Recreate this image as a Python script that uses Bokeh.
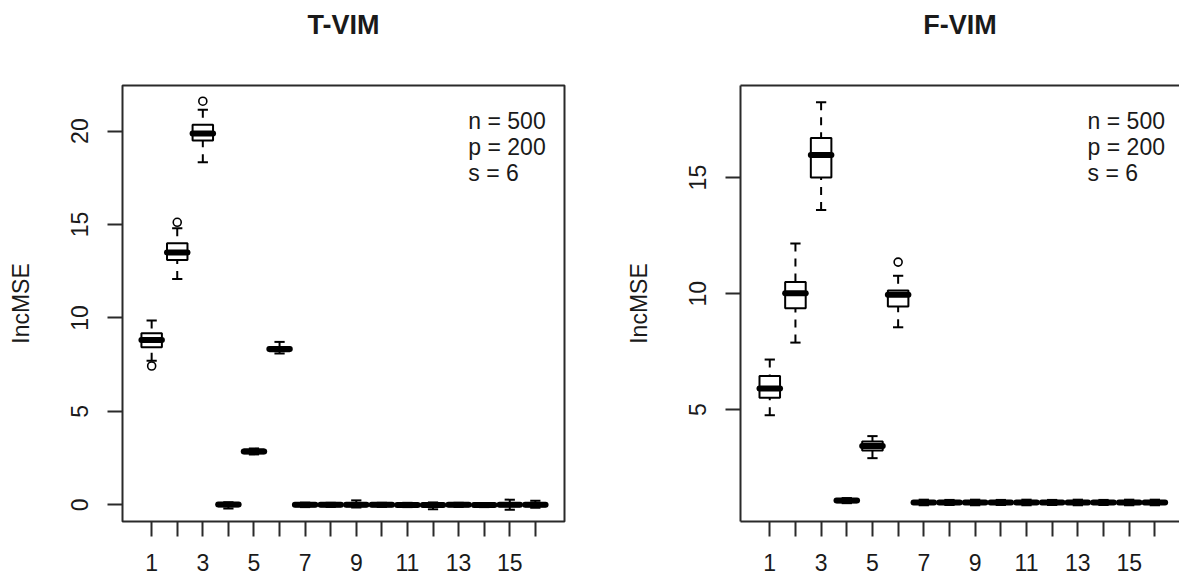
from bokeh.plotting import figure
from bokeh.layouts import row
from bokeh.models import FixedTicker, Label, LinearAxis, ColumnDataSource
from bokeh.embed import file_html
from bokeh.resources import INLINE

# ---------------- data ----------------
positions = list(range(1, 17))
x_tick_labels = ["1", "", "3", "", "5", "", "7", "", "9", "", "11", "", "13", "", "15", ""]
legend_lines = ["n = 500", "p = 200", "s = 6"]
y_label = "IncMSE"

# T-VIM boxplot statistics
tvim_low = [7.71, 12.09, 18.33, -0.20, 2.70, 8.10, -0.12, -0.11, -0.14, -0.11, -0.12, -0.24, -0.11, -0.12, -0.26, -0.16]
tvim_q1 = [8.43, 13.10, 19.50, -0.08, 2.76, 8.22, -0.08, -0.08, -0.08, -0.08, -0.08, -0.08, -0.08, -0.08, -0.08, -0.08]
tvim_med = [8.82, 13.51, 19.87, 0.02, 2.86, 8.34, 0.00, 0.00, 0.01, 0.00, -0.01, -0.01, 0.00, -0.01, 0.01, 0.01]
tvim_q3 = [9.18, 14.00, 20.34, 0.09, 2.96, 8.45, 0.08, 0.08, 0.09, 0.08, 0.08, 0.08, 0.08, 0.08, 0.09, 0.09]
tvim_high = [9.86, 14.80, 21.14, 0.14, 3.02, 8.72, 0.12, 0.11, 0.24, 0.11, 0.11, 0.13, 0.11, 0.10, 0.28, 0.22]
tvim_out_x = [1, 2, 3]
tvim_out_y = [7.43, 15.12, 21.60]
tvim_yticks = [0, 5, 10, 15, 20]

# F-VIM boxplot statistics
fvim_low = [4.76, 7.89, 13.60, 0.97, 2.91, 8.55, 0.88, 0.89, 0.88, 0.89, 0.88, 0.89, 0.88, 0.89, 0.88, 0.88]
fvim_q1 = [5.51, 9.37, 15.00, 1.01, 3.24, 9.45, 0.94, 0.94, 0.94, 0.94, 0.94, 0.94, 0.94, 0.94, 0.94, 0.94]
fvim_med = [5.91, 10.02, 15.98, 1.08, 3.43, 9.95, 1.00, 1.00, 1.00, 1.00, 1.00, 1.00, 1.00, 1.00, 1.00, 1.00]
fvim_q3 = [6.45, 10.50, 16.71, 1.15, 3.63, 10.14, 1.06, 1.06, 1.06, 1.06, 1.06, 1.06, 1.06, 1.06, 1.06, 1.06]
fvim_high = [7.16, 12.16, 18.25, 1.19, 3.86, 10.77, 1.12, 1.11, 1.12, 1.11, 1.12, 1.11, 1.12, 1.11, 1.12, 1.12]
fvim_out_x = [6]
fvim_out_y = [11.36]
fvim_yticks = [5, 10, 15]

FONT = "Liberation Sans"
INK = "#1a1a1a"
FRAME = "#2a2a2a"
TEXT_SIZE = "23px"
FRAME_H = 436.0


def make_panel(title, low, q1, med, q3, high, out_x, out_y, yticks, y_range,
               x_range, width, min_left, min_right, full_box):
    p = figure(width=width, height=577, x_range=x_range, y_range=y_range,
               output_backend="svg", toolbar_location=None,
               min_border_left=min_left, min_border_right=min_right,
               min_border_top=85, min_border_bottom=56)
    p.background_fill_color = "white"
    p.border_fill_color = "white"
    p.grid.visible = False

    src = ColumnDataSource(dict(
        x=positions, low=low, q1=q1, med=med, q3=q3, high=high,
        xl=[x - 0.4 for x in positions], xr=[x + 0.4 for x in positions],
        cl=[x - 0.2 for x in positions], cr=[x + 0.2 for x in positions]))

    # whiskers (dashed, from whisker end to hinge, as R draws them)
    p.segment(x0="x", y0="high", x1="x", y1="q3", source=src, line_color="black",
              line_width=2, line_dash="8 7")
    p.segment(x0="x", y0="low", x1="x", y1="q1", source=src, line_color="black",
              line_width=2, line_dash="8 7")
    # staples
    p.segment(x0="cl", y0="high", x1="cr", y1="high", source=src, line_color="black", line_width=2)
    p.segment(x0="cl", y0="low", x1="cr", y1="low", source=src, line_color="black", line_width=2)
    # boxes
    p.quad(left="xl", right="xr", bottom="q1", top="q3", source=src,
           fill_color="white", line_color="black", line_width=2)
    # medians
    p.segment(x0="xl", y0="med", x1="xr", y1="med", source=src, line_color="black",
              line_width=6, line_cap="round")
    # outliers
    p.scatter(out_x, out_y, marker="circle", size=8, fill_color="white",
              line_color="black", line_width=1.6)

    y0, y1 = y_range
    per_px = (y1 - y0) / FRAME_H

    # axes
    xa = p.xaxis[0]
    xa.ticker = FixedTicker(ticks=positions)
    xa.major_label_overrides = {pos: lab for pos, lab in zip(positions, x_tick_labels)}
    ya = p.yaxis[0]
    ya.ticker = FixedTicker(ticks=yticks)
    ya.major_label_orientation = "vertical"
    ya.axis_label = y_label
    ya.axis_label_text_font_style = "normal"
    ya.axis_label_text_font = FONT
    ya.axis_label_text_font_size = TEXT_SIZE
    ya.axis_label_text_color = INK
    ya.axis_label_standoff = 35
    for ax in (xa, ya):
        ax.minor_tick_line_color = None
        ax.major_tick_in = 0
        ax.major_tick_out = 15
        ax.major_tick_line_width = 2
        ax.major_tick_line_color = FRAME
        ax.major_label_text_font = FONT
        ax.major_label_text_font_size = TEXT_SIZE
        ax.major_label_text_color = INK
    xa.major_label_standoff = 17
    ya.major_label_standoff = 19

    # top axis: no ticks, used as the top border line and as spacing under the title
    top = LinearAxis(ticker=FixedTicker(ticks=[]), axis_line_width=2,
                     major_label_text_font_size="0px", major_label_standoff=0,
                     major_tick_in=0, major_tick_out=0,
                     major_tick_line_color=None, minor_tick_line_color=None,
                     axis_label=" ", axis_label_text_font_size="10px",
                     axis_label_text_alpha=0.0, axis_label_standoff=27)
    p.add_layout(top, "above")

    if full_box:
        p.outline_line_color = FRAME
        p.outline_line_width = 2
        p.outline_line_alpha = 1.0
        xa.axis_line_color = None
        ya.axis_line_color = None
        top.axis_line_color = None
    else:
        p.outline_line_color = None
        xa.axis_line_color = FRAME
        xa.axis_line_width = 2
        ya.axis_line_color = FRAME
        ya.axis_line_width = 2
        top.axis_line_color = FRAME

    # title
    p.title.text = title
    p.title.align = "center"
    p.title.text_font = FONT
    p.title.text_font_size = "27px"
    p.title.text_font_style = "bold"
    p.title.text_color = INK
    p.title.standoff = 10

    # legend-like annotation in upper right (text lines, left aligned)
    for i, line in enumerate(legend_lines):
        ypos = y1 - (35 + 26 * i) * per_px
        p.add_layout(Label(x=13.38, y=ypos, text=line, text_font=FONT,
                           text_font_size=TEXT_SIZE, text_color=INK,
                           text_baseline="alphabetic", text_align="left"))
    return p


p1 = make_panel("T-VIM", tvim_low, tvim_q1, tvim_med, tvim_q3, tvim_high,
                tvim_out_x, tvim_out_y, tvim_yticks, (-0.89, 22.44),
                (-0.14, 17.14), 590, 122, 26, True)
p2 = make_panel("F-VIM", fvim_low, fvim_q1, fvim_med, fvim_q3, fvim_high,
                fvim_out_x, fvim_out_y, fvim_yticks, (0.18, 18.97),
                (-0.14, 16.96), 589, 150, 0, False)

layout = row(p1, p2)
open("out.html", "w").write(file_html(layout, INLINE))
